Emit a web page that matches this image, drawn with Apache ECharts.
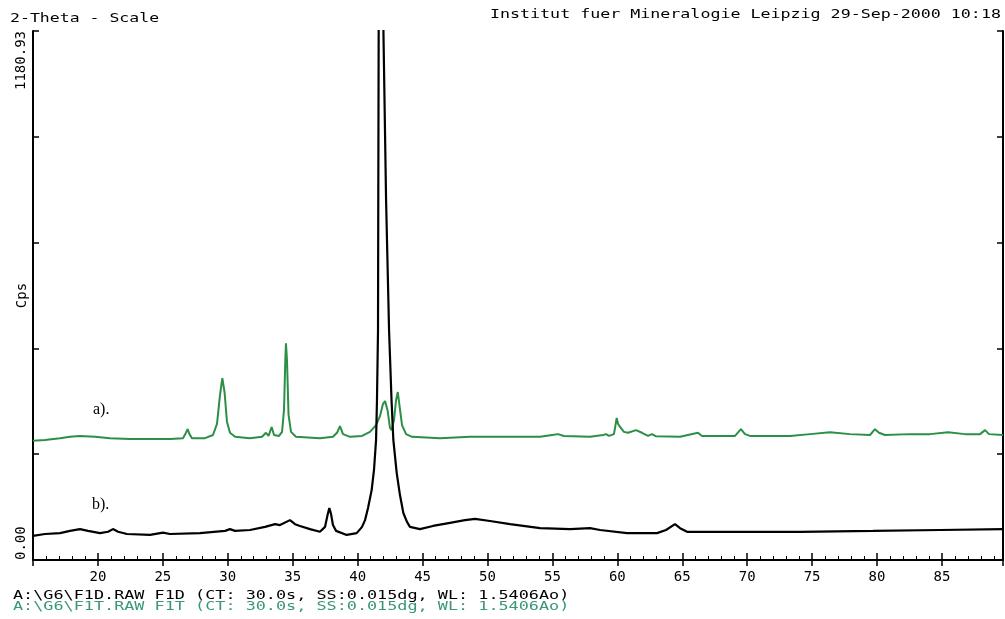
<!DOCTYPE html>
<html><head><meta charset="utf-8">
<script src="https://cdn.jsdelivr.net/npm/echarts@6/dist/echarts.min.js"></script>
<style>html,body{margin:0;padding:0;background:#fff}#c{width:1005px;height:619px}</style>
</head><body><div id="c"></div>
<script>
// Series a) (green, upper trace): 2-theta (deg) and intensity (Cps)
const thetaA = [15.00,15.92,17.08,17.85,18.62,19.77,20.93,22.47,24.01,25.55,26.55,26.78,26.91,27.05,27.24,28.25,28.86,29.17,29.40,29.58,29.75,29.94,30.17,30.56,31.71,32.64,32.94,33.14,33.38,33.56,33.95,34.18,34.33,34.43,34.48,34.56,34.68,34.87,35.25,37.10,38.10,38.41,38.64,38.87,39.41,40.34,40.95,41.42,41.72,41.95,42.11,42.30,42.49,42.62,42.80,42.96,43.09,43.22,43.42,43.73,44.19,46.34,48.65,51.74,54.05,54.97,55.43,55.89,57.90,58.90,59.13,59.36,59.74,59.95,60.05,60.21,60.51,60.82,61.44,61.90,62.36,62.67,62.98,64.83,66.21,66.52,69.06,69.52,69.83,70.22,73.30,74.84,76.38,77.92,79.46,79.84,80.15,80.61,82.54,84.08,85.47,86.78,87.93,88.32,88.62,89.70];
const cpsA = [266,268,272,275,277,275,272,270,270,270,272,284,292,281,272,272,279,304,368,406,375,308,284,275,272,275,284,277,297,279,277,286,335,446,484,446,324,286,275,272,275,284,299,281,275,277,286,301,321,348,355,335,295,290,313,357,375,346,301,281,275,272,275,275,275,279,281,277,275,279,281,277,281,317,304,297,286,284,290,284,277,281,276,275,284,277,277,292,281,277,277,281,285,281,279,292,284,279,281,281,285,281,281,290,281,279];
// Series b) (black, lower trace)
const thetaB = [15.00,15.92,17.08,17.85,18.62,19.24,20.16,20.78,21.16,21.55,22.24,24.01,25.01,25.55,27.86,29.79,30.17,30.56,31.71,32.87,33.64,34.02,34.79,35.18,35.56,36.33,37.10,37.49,37.68,37.82,37.95,38.10,38.34,39.16,39.93,40.34,40.57,40.80,41.08,41.26,41.42,41.49,41.57,41.59,41.62,41.76,41.99,42.19,42.42,42.61,42.75,43.01,43.26,43.52,43.80,44.03,44.80,45.80,47.11,48.27,49.04,50.19,51.74,54.05,56.36,57.90,58.67,60.75,63.06,63.75,64.44,64.83,65.37,69.45,74.07,79.69,84.85,89.70];
const cpsB = [54,58,60,65,69,65,60,63,69,63,58,56,61,58,60,65,69,65,67,74,80,78,89,80,76,69,63,74,100,116,103,78,65,56,60,74,89,116,156,201,268,357,513,804,1174,2590,1174,804,513,357,268,194,145,105,85,74,69,76,83,89,92,87,80,71,69,71,67,60,60,67,80,71,63,63,63,65,67,69];
const xMin = 15, xMax = 89.7, xStep = 5;
const yMin = 0, yMax = 1180.93;
const yTickLabels = ['0.00', '1180.93'];

const mono = "'DejaVu Sans Mono', monospace";
const chart = echarts.init(document.getElementById('c'), null, {renderer: 'canvas'});
const frame = {show: true, lineStyle: {color: '#000', width: 2}};
const tickStyle = {color: '#000', width: 1.5};
chart.setOption({
  animation: false,
  backgroundColor: '#fff',
  grid: {left: 33, right: 2, top: 31, bottom: 59, containLabel: false, outerBoundsMode: 'none'},
  xAxis: [
    {type: 'value', min: xMin, max: xMax, interval: xStep, position: 'bottom',
     axisLine: frame,
     axisTick: {inside: true, length: 7, lineStyle: tickStyle},
     minorTick: {show: true, splitNumber: 5, length: 4, lineStyle: {color: '#000', width: 1}},
     axisLabel: {color: '#000', fontFamily: mono, fontSize: 14, margin: 10,
       formatter: v => (Math.abs(v % 5) < 1e-6 && v > xMin && v < xMax) ? String(Math.round(v)) : ''},
     splitLine: {show: false}},
    {type: 'value', min: xMin, max: xMax, interval: xStep, position: 'top',
     axisLine: frame,
     axisTick: {inside: true, length: 6, lineStyle: tickStyle},
     axisLabel: {show: false}, splitLine: {show: false}}
  ],
  yAxis: [
    {type: 'value', min: yMin, max: yMax, interval: (yMax - yMin) / 5, position: 'left',
     name: 'Cps', nameLocation: 'middle', nameRotate: 90, nameGap: 4, nameMoveOverlap: false,
     nameTextStyle: {color: '#000', fontFamily: mono, fontSize: 14},
     axisLine: frame,
     axisTick: {inside: true, length: 6, lineStyle: tickStyle},
     axisLabel: {rotate: 90, color: '#000', fontFamily: mono, fontSize: 14, margin: 5,
       showMinLabel: true, showMaxLabel: true, alignMinLabel: 'left', alignMaxLabel: 'right',
       formatter: v => v <= yMin + 1e-6 ? yTickLabels[0] : (v >= yMax - 1e-3 ? yTickLabels[1] : '')},
     splitLine: {show: false}},
    {type: 'value', min: yMin, max: yMax, interval: (yMax - yMin) / 5, position: 'right',
     axisLine: frame,
     axisTick: {inside: true, length: 6, lineStyle: tickStyle},
     axisLabel: {show: false}, splitLine: {show: false}}
  ],
  series: [
    {name: 'a)', type: 'line', xAxisIndex: 0, yAxisIndex: 0, symbol: 'none', clip: true,
     lineStyle: {color: '#2b8f46', width: 2},
     data: thetaA.map((t, i) => [t, cpsA[i]])},
    {name: 'b)', type: 'line', xAxisIndex: 0, yAxisIndex: 0, symbol: 'none', clip: true,
     lineStyle: {color: '#000', width: 2.2},
     data: thetaB.map((t, i) => [t, cpsB[i]])}
  ],
  graphic: [
    {type: 'text', x: 10, y: 18.5, scaleX: 1.27, style: {text: '2-Theta - Scale', font: "13px 'DejaVu Sans Mono'", fill: '#000', textVerticalAlign: 'middle'}},
    {type: 'text', x: 490, y: 14.5, scaleX: 1.28, style: {text: 'Institut fuer Mineralogie Leipzig 29-Sep-2000 10:18', font: "13px 'DejaVu Sans Mono'", fill: '#000', textVerticalAlign: 'middle'}},
    {type: 'text', x: 13, y: 596, scaleX: 1.4, style: {text: 'A:\\G6\\F1D.RAW F1D (CT: 30.0s, SS:0.015dg, WL: 1.5406Ao)', font: "12px 'DejaVu Sans Mono'", fill: '#000', textVerticalAlign: 'middle'}},
    {type: 'text', x: 13, y: 607, scaleX: 1.4, style: {text: 'A:\\G6\\F1T.RAW F1T (CT: 30.0s, SS:0.015dg, WL: 1.5406Ao)', font: "12px 'DejaVu Sans Mono'", fill: '#3a9878', textVerticalAlign: 'middle'}},
    {type: 'text', x: 93, y: 410, style: {text: 'a).', font: "16px 'Liberation Serif'", fill: '#000', textVerticalAlign: 'middle'}},
    {type: 'text', x: 92, y: 505, style: {text: 'b).', font: "16px 'Liberation Serif'", fill: '#000', textVerticalAlign: 'middle'}}
  ]
});
</script></body></html>
